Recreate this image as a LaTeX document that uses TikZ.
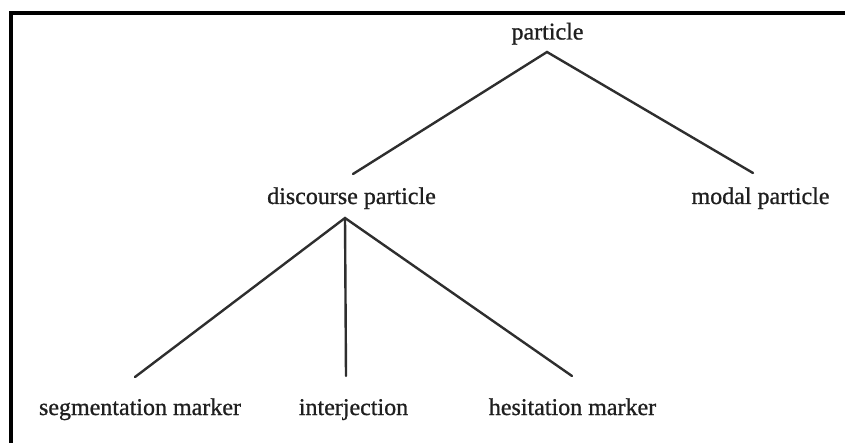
\documentclass[tikz,border=0pt]{standalone}
\usepackage{fontspec}
\setmainfont{Liberation Serif}
\newfontfamily\termfont[FakeBold=0.9]{Liberation Serif}
\begin{document}
\begin{tikzpicture}[x=1pt,y=-1pt,
  term/.style={font=\termfont\fontsize{24}{28}\selectfont, text=black!88, inner sep=0pt, anchor=base},
  branch/.style={line width=2.4pt, draw=black!82, line cap=round},
  frameline/.style={line width=4pt, draw=black}]
  \useasboundingbox (0,0) rectangle (845,443);
  % open frame: left and top edges
  \draw[frameline] (10.5,443) -- (10.5,13) -- (845,13);

  % terms
  \node[term] (particle) at (547.5,39.5) {particle};
  \node[term] (disc) at (351.5,204) {discourse particle};
  \node[term] (modal) at (760.5,204) {modal particle};
  \node[term] (seg) at (140,415) {segmentation marker};
  \node[term] (interj) at (353.5,415) {interjection};
  \node[term] (hes) at (572.5,415) {hesitation marker};

  % branch points
  \coordinate (particle-root) at (547,52);
  \coordinate (disc-in) at (353,174);
  \coordinate (modal-in) at (753,173);
  \coordinate (disc-root) at (345,218);
  \coordinate (seg-in) at (135,377);
  \coordinate (interj-in) at (346,376);
  \coordinate (hes-in) at (572,376);

  % branches
  \draw[branch] (disc-in) -- (particle-root) -- (modal-in);
  \draw[branch] (seg-in) -- (disc-root) -- (hes-in);
  \draw[branch] (disc-root) -- (interj-in);
\end{tikzpicture}
\end{document}
